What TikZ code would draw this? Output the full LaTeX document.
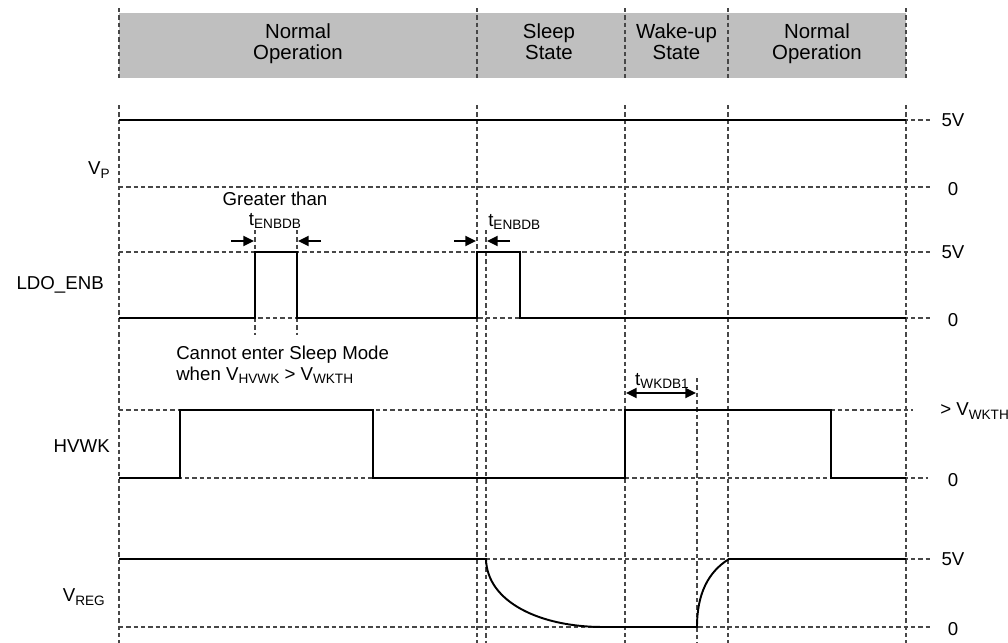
\documentclass[tikz,border=0pt]{standalone}
\usepackage{fontspec}
\setmainfont{Liberation Sans}
\usetikzlibrary{arrows.meta}
\newcommand{\ts}[1]{\raisebox{-2.6pt}{\fontsize{10.2}{10.2}\selectfont #1}}
\begin{document}
\begin{tikzpicture}[x=0.75pt,y=-0.75pt,
  grid/.style={draw=black!72, line width=0.8pt, dash pattern=on 3.3pt off 2.2pt},
  sig/.style={draw=black, line width=1.45pt, line join=miter},
  lbl/.style={inner sep=0pt, font=\fontsize{14}{15}\selectfont},
  hdr/.style={inner sep=0pt, align=center, font=\fontsize{15.3}{15.6}\selectfont},
  dimarrow/.style={draw=black, line width=1.4pt, -{Triangle[length=8pt,width=7.5pt]}},
  dimboth/.style={draw=black, line width=1.4pt, {Triangle[length=8pt,width=7.5pt]}-{Triangle[length=8pt,width=7.5pt]}},
  ]
\useasboundingbox (0,0) rectangle (1008,643);

% header band
\fill[black!25] (119,13) rectangle (906,78);
\foreach \x in {119,477,625,728,906} {
  \draw[grid] (\x,8) -- (\x,78);
  \draw[grid] (\x,105) -- (\x,643);
}
\node[hdr] (h1) at (298,44) {Normal\\Operation};
\node[hdr] (h2) at (549,44) {Sleep\\State\vphantom{p}};
\node[hdr] (h3) at (676.5,44) {Wake-up\\State\vphantom{p}};
\node[hdr] (h4) at (817,44) {Normal\\Operation};

% extra vertical guide lines
\draw[grid] (255,230) -- (255,335);
\draw[grid] (297,230) -- (297,335);
\draw[grid] (486,230) -- (486,643);
\draw[grid] (697,378) -- (697,643);

% horizontal reference lines
\foreach \y in {120,187,252,318,559,627} {
  \draw[grid] (119,\y) -- (930,\y);
}
\draw[grid] (119,410) -- (913,410);
\draw[grid] (119,478) -- (928,478);

% signals
\draw[sig] (119,120) -- (906,120);
\draw[sig] (119,318) -- (255,318) -- (255,252) -- (297,252) -- (297,318)
  -- (477,318) -- (477,252) -- (520,252) -- (520,318) -- (906,318);
\draw[sig] (119,478) -- (180,478) -- (180,410) -- (373,410) -- (373,478)
  -- (625,478) -- (625,410) -- (831,410) -- (831,478) -- (906,478);
\draw[sig] (119,559) -- (486,559) .. controls (487,602) and (540,627) .. (603,627)
  -- (697,627) .. controls (697,594) and (708,572) .. (729,559) -- (906,559);

% left labels
\node[lbl, anchor=east] (lvp) at (110,170) {V\ts{P}};
\node[lbl, anchor=east] (lldo) at (104,285) {LDO\_ENB};
\node[lbl, anchor=east] (lhv) at (110,446) {HVWK};
\node[lbl, anchor=east] (lreg) at (105,597) {V\ts{REG}};

% right labels
\node[lbl] (r1) at (953,120) {5V};
\node[lbl] (r2) at (953,189) {0};
\node[lbl] (r3) at (953,252) {5V};
\node[lbl] (r4) at (953,320) {0};
\node[lbl, anchor=west] (r5) at (940,411) {> V\ts{WKTH}};
\node[lbl] (r6) at (953,480) {0};
\node[lbl] (r7) at (953,559) {5V};
\node[lbl] (r8) at (953,629) {0};

% annotations
\node[lbl] (gt) at (275,199) {Greater than};
\node[lbl] (te1) at (275,221) {t\ts{ENBDB}};
\node[lbl, anchor=west] (te2) at (488,222) {t\ts{ENBDB}};
\node[lbl, anchor=west, align=left, font=\fontsize{14}{15.2}\selectfont] (cant) at (176,365)
  {Cannot enter Sleep Mode\\when V\ts{HVWK} > V\ts{WKTH}};
\node[lbl] (twk) at (662,381) {t\ts{WKDB1}};

% dimension arrows
\coordinate (a1s) at (231,241); \coordinate (a1e) at (254,241);
\coordinate (a2s) at (321,241); \coordinate (a2e) at (298,241);
\coordinate (a3s) at (454,241); \coordinate (a3e) at (476,241);
\coordinate (a4s) at (510,241); \coordinate (a4e) at (487,241);
\coordinate (w1) at (626,393); \coordinate (w2) at (696,393);
\draw[dimarrow] (a1s) -- (a1e);
\draw[dimarrow] (a2s) -- (a2e);
\draw[dimarrow] (a3s) -- (a3e);
\draw[dimarrow] (a4s) -- (a4e);
\draw[dimboth] (w1) -- (w2);
\end{tikzpicture}
\end{document}
